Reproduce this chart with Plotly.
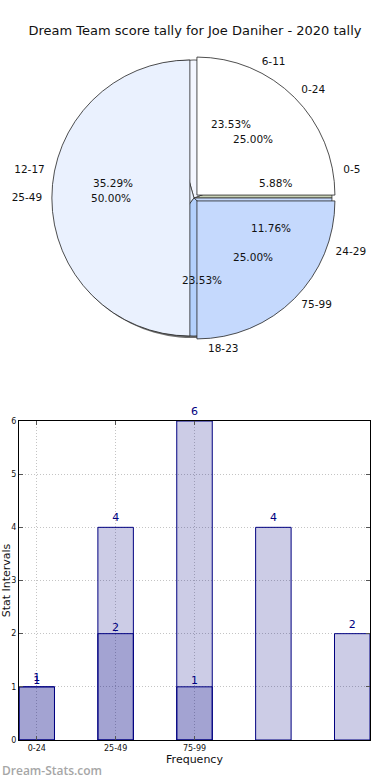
import math
import plotly.graph_objects as go

# ---------------- data ----------------
title_text = "Dream Team score tally for Joe Daniher - 2020 tally"
outer_labels = ["0-5", "6-11", "12-17", "18-23", "24-29"]
outer_counts = [1, 4, 6, 4, 2]
inner_labels = ["0-24", "25-49", "75-99"]
inner_counts = [1, 2, 1]
bar_tick_labels = ["0-24", "25-49", "75-99"]
y_title = "Stat Intervals"
x_title = "Frequency"
watermark = "Dream-Stats.com"

# ---------------- layout constants ----------------
W, H = 390, 780
CX, CY, R = 194, 198, 138      # pie centre / radius in px
PULL = 0.03
FONT = "DejaVu Sans"
NAVY = "#000080"
BAR_FILL = "rgba(0,0,128,0.2)"
GRID = "#c4c4c4"

outer_colors = ["#c9d2b6", "#f3f6ff", "#eaf1fe", "#b3d0fc", "#c5d9fd"]
inner_colors = ["#ffffff", "#eaf1fe", "#c5d9fd"]


def dom(cx, cy, r):
    return dict(x=[(cx - r) / W, (cx + r) / W], y=[1 - (cy + r) / H, 1 - (cy - r) / H])


def start_rotation(counts):
    # matplotlib: first wedge starts at 3 o'clock and runs counter-clockwise
    return 90 - 360 * counts[0] / sum(counts)


fig = go.Figure()

# shadow
fig.add_trace(go.Pie(values=outer_counts, sort=False, direction="counterclockwise",
                     rotation=start_rotation(outer_counts),
                     marker=dict(colors=["#6e6e6e"] * len(outer_counts), line=dict(width=0)),
                     textinfo="none", hoverinfo="skip", showlegend=False,
                     domain=dom(CX - 2, CY + 2, R)))
# outer pie (underneath)
fig.add_trace(go.Pie(values=outer_counts, labels=outer_labels, sort=False,
                     direction="counterclockwise", rotation=start_rotation(outer_counts),
                     marker=dict(colors=outer_colors, line=dict(color="#333333", width=0.8)),
                     textinfo="none", showlegend=False,
                     domain=dom(CX, CY, R)))
# inner pie (on top, slightly exploded)
fig.add_trace(go.Pie(values=inner_counts, labels=inner_labels, sort=False,
                     direction="counterclockwise", rotation=start_rotation(inner_counts),
                     pull=[PULL] * len(inner_counts),
                     marker=dict(colors=inner_colors, line=dict(color="#222222", width=0.8)),
                     textinfo="none", showlegend=False,
                     domain=dom(CX, CY, R * (1 + PULL))))


def wedge_mids(counts):
    total = sum(counts)
    start = 0.0
    out = []
    for c in counts:
        frac = c / total
        mid = (start + frac / 2) * 2 * math.pi
        start += frac
        out.append((frac, math.cos(mid), math.sin(mid)))
    return out


annotations = []
for cnts, labs in ((outer_counts, outer_labels), (inner_counts, inner_labels)):
    mids = wedge_mids(cnts)
    # wedge labels (outside the pie)
    fig.add_trace(go.Scatter(
        x=[1.1 * ca for _, ca, _ in mids], y=[1.1 * sa for _, _, sa in mids],
        text=labs, mode="text",
        textposition=["middle right" if ca > 0 else "middle left" for _, ca, _ in mids],
        textfont=dict(family=FONT, size=10.5, color="#111111"),
        xaxis="x2", yaxis="y2", hoverinfo="skip", showlegend=False, cliponaxis=False))
    # percentages (inside, on top of the pie)
    for frac, ca, sa in mids:
        annotations.append(dict(text=f"{frac * 100:.2f}%", x=0.6 * ca, y=0.6 * sa,
                                xref="x2", yref="y2", xanchor="center", yanchor="middle",
                                showarrow=False,
                                font=dict(family=FONT, size=10.5, color="#111111")))

# ---------------- bar chart ----------------
light_x = list(range(len(outer_counts)))
dark_x = list(range(len(inner_counts)))
fig.add_trace(go.Bar(x=light_x, y=outer_counts, width=0.45,
                     marker=dict(color=BAR_FILL, line=dict(color=NAVY, width=1)),
                     text=[str(v) for v in outer_counts], textposition="outside",
                     textfont=dict(family=FONT, size=11, color=NAVY), cliponaxis=False,
                     showlegend=False))
fig.add_trace(go.Bar(x=dark_x, y=inner_counts, width=0.45,
                     marker=dict(color=BAR_FILL, line=dict(color=NAVY, width=1)),
                     showlegend=False))
# labels of the overlaid (darker) bars sit right on the bar tops
fig.add_trace(go.Scatter(x=dark_x, y=inner_counts, text=[str(v) for v in inner_counts],
                         mode="text", textposition="top center",
                         textfont=dict(family=FONT, size=11, color=NAVY),
                         hoverinfo="skip", showlegend=False, cliponaxis=False))

annotations.append(dict(text=watermark, xref="paper", yref="paper", x=0, y=1 - 770 / H,
                        xanchor="left", yanchor="middle", showarrow=False,
                        font=dict(family="Open Sans", size=12, color="#a6a6a6", weight=600)))

px_x0, px_x1, px_y0, px_y1 = 19, 370, 421, 740
axis_common = dict(showgrid=True, gridcolor=GRID, griddash="1px,2px", gridwidth=1,
                   showline=True, linecolor="black", linewidth=1, mirror="ticks",
                   ticks="inside", ticklen=4, tickcolor="#555555",
                   tickfont=dict(family=FONT, size=8, color="#111111"),
                   zeroline=False, fixedrange=True, automargin=False)
fig.update_layout(
    width=W, height=H,
    margin=dict(l=0, r=0, t=0, b=0, autoexpand=False),
    paper_bgcolor="white", plot_bgcolor="white",
    barmode="overlay",
    font=dict(family=FONT, color="#111111"),
    title=dict(text=title_text, x=0.5, xref="paper", xanchor="center", y=1 - 30 / H,
               yanchor="middle", font=dict(family=FONT, size=13, color="#111111")),
    xaxis=dict(domain=[px_x0 / W, px_x1 / W], range=[-0.225, len(outer_counts) - 1 + 0.225],
               tickvals=dark_x, ticktext=bar_tick_labels,
               title=dict(text=x_title, font=dict(family=FONT, size=11, color="#111111"), standoff=0),
               **axis_common),
    yaxis=dict(domain=[1 - px_y1 / H, 1 - px_y0 / H], range=[0, 6], dtick=1,
               title=dict(text=y_title, font=dict(family=FONT, size=11, color="#111111"), standoff=0),
               **axis_common),
    xaxis2=dict(domain=[0, 1], range=[(0 - CX) / R, (W - CX) / R], visible=False,
                fixedrange=True, anchor="y2"),
    yaxis2=dict(domain=[0.5, 1], range=[(CY - H / 2) / R, CY / R], visible=False,
                fixedrange=True, anchor="x2"),
    annotations=annotations,
)

fig.write_html("out.html", config={"displayModeBar": False},
               post_script="document.body.style.margin='0';document.body.style.overflow='hidden';")
